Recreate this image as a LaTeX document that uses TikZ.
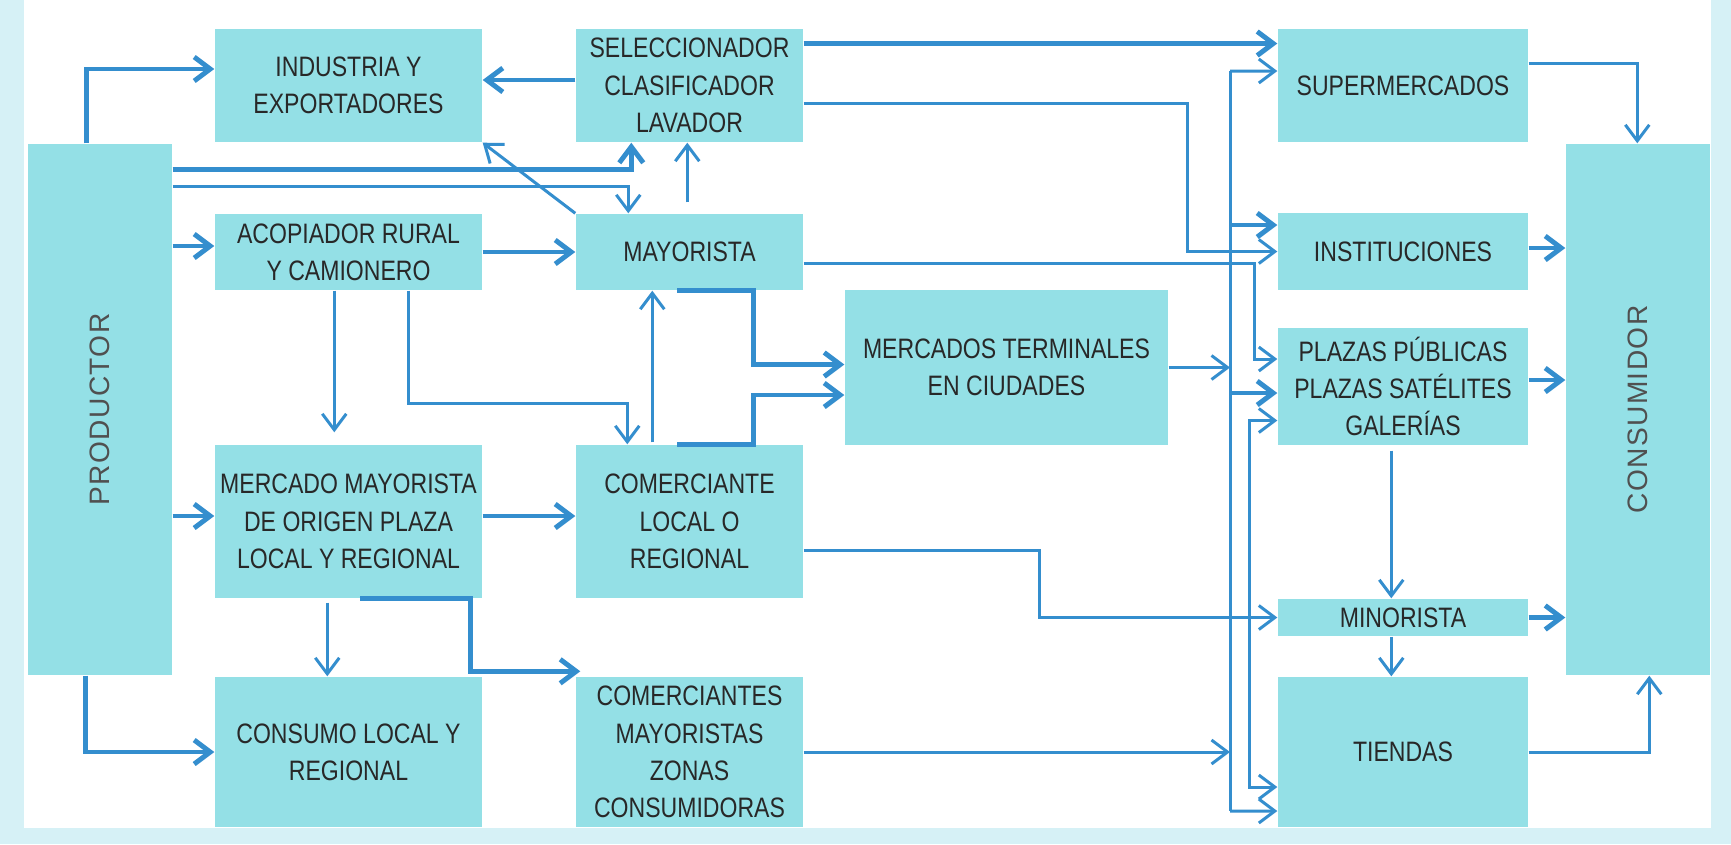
\documentclass[tikz,border=0pt]{standalone}
\usepackage{fontspec}
\setmainfont{Liberation Sans}
\newfontfamily\narrowfont{Liberation Sans}[FakeStretch=0.82]
\newfontfamily\spacedfont{Liberation Sans}[LetterSpace=5]
\usetikzlibrary{arrows.meta}
\definecolor{boxcyan}{RGB}{148,224,230}
\definecolor{flowblue}{RGB}{52,142,206}
\definecolor{edgecyan}{RGB}{214,241,246}
\definecolor{boxtext}{RGB}{40,40,40}
\definecolor{sidegray}{RGB}{80,80,80}
\tikzset{>={Straight Barb[length=1.6mm, width=2.4mm]}}

\begin{document}
\begin{tikzpicture}[x=0.1mm, y=-0.1mm,
    box/.style={fill=boxcyan, inner sep=0pt, align=center, text=boxtext,
      font=\narrowfont\fontsize{8}{10.6}\selectfont},
    side/.style={rotate=90, text=sidegray, font=\spacedfont\fontsize{8}{10}\selectfont},
    flow/.style={draw=flowblue, line width=0.85pt},
    heavy/.style={flow, line width=1.4pt}]
    \useasboundingbox (0,0) rectangle (1731,844);
    \fill[edgecyan] (0,0) rectangle (1731,844);
    \fill[white] (24,0) rectangle (1711,828);

    % boxes
    \node[box, minimum width=14.4mm, minimum height=53.1mm] (prod) at (100,409.5) {};
    \node[side] (prodlabel) at (prod.center) {PRODUCTOR};
    \node[box, minimum width=26.7mm, minimum height=11.3mm] (ind) at (348.5,85.5) {INDUSTRIA Y\\EXPORTADORES};
    \node[box, minimum width=22.7mm, minimum height=11.3mm] (sel) at (689.5,85.5) {SELECCIONADOR\\CLASIFICADOR\\LAVADOR};
    \node[box, minimum width=26.7mm, minimum height=7.6mm] (aco) at (348.5,252) {ACOPIADOR RURAL\\Y CAMIONERO};
    \node[box, minimum width=22.7mm, minimum height=7.6mm] (may) at (689.5,252) {MAYORISTA};
    \node[box, minimum width=32.3mm, minimum height=15.5mm] (mt) at (1006.5,367.5) {MERCADOS TERMINALES\\EN CIUDADES};
    \node[box, minimum width=26.7mm, minimum height=15.3mm] (mm) at (348.5,521.5) {MERCADO MAYORISTA\\DE ORIGEN PLAZA\\LOCAL Y REGIONAL};
    \node[box, minimum width=22.7mm, minimum height=15.3mm] (com) at (689.5,521.5) {COMERCIANTE\\LOCAL O\\REGIONAL};
    \node[box, minimum width=26.7mm, minimum height=15mm] (con) at (348.5,752) {CONSUMO LOCAL Y\\REGIONAL};
    \node[box, minimum width=22.7mm, minimum height=15mm] (cms) at (689.5,752) {COMERCIANTES\\MAYORISTAS\\ZONAS\\CONSUMIDORAS};
    \node[box, minimum width=25mm, minimum height=11.3mm] (sup) at (1403,85.5) {SUPERMERCADOS};
    \node[box, minimum width=25mm, minimum height=7.7mm] (ins) at (1403,251.5) {INSTITUCIONES};
    \node[box, minimum width=25mm, minimum height=11.7mm] (pla) at (1403,386.5) {PLAZAS PÚBLICAS\\PLAZAS SATÉLITES\\GALERÍAS};
    \node[box, minimum width=25mm, minimum height=3.7mm] (min) at (1403,617.5) {MINORISTA};
    \node[box, minimum width=25mm, minimum height=15mm] (tie) at (1403,752) {TIENDAS};
    \node[box, minimum width=14.4mm, minimum height=53.1mm] (cons) at (1638,409.5) {};
    \node[side] (conslabel) at (cons.center) {CONSUMIDOR};

    % productor
    \draw[heavy, ->] (prod.north west) ++(59,0) |- ([yshift=1.65mm]ind.west);
    \draw[heavy, ->] (prod.north east) ++(0,26) -| ([xshift=5.6mm]sel.south west);
    \draw[flow, ->] (prod.north east) ++(0,43) -| ([xshift=5.3mm]may.north west);
    \draw[heavy, ->] ([yshift=.6mm]aco.west -| prod.east) -- ([yshift=.6mm]aco.west);
    \draw[heavy, ->] ([yshift=.55mm]mm.west -| prod.east) -- ([yshift=.55mm]mm.west);
    \draw[heavy, ->] (prod.south west) ++(58,0) |- (con.west);

    % middle
    \draw[heavy, ->] ([yshift=.55mm]sel.west) -- ([yshift=.55mm]ind.east);
    \draw[flow, ->] (may.north west) -- (ind.south east);
    \draw[flow, ->] ([xshift=11.2mm, yshift=1.1mm]may.north west) -- ([xshift=11.2mm]sel.south west);
    \draw[heavy, ->] (aco.east) -- (may.west);
    \draw[flow, ->] ([xshift=12mm]aco.south west) -- ([xshift=12mm, yshift=1.2mm]mm.north west);
    \draw[flow, ->] ([xshift=19.4mm]aco.south west) -- ++(0,113) -| ([xshift=5.2mm]com.north west);
    \draw[flow, ->] ([xshift=7.7mm, yshift=.2mm]com.north west) -- ([xshift=7.7mm]may.south west);
    \draw[heavy, ->] ([xshift=10.2mm]may.south west) -- ++(76,0) |- ([yshift=.3mm]mt.west);
    \draw[heavy, ->] ([xshift=10.2mm]com.north west) -- ++(76,0) |- ([yshift=-2.75mm]mt.west);
    \draw[heavy, ->] ([yshift=.55mm]mm.east) -- ([yshift=.55mm]com.west);
    \draw[flow, ->] ([xshift=11.3mm, yshift=-.4mm]mm.south west) -- ([xshift=11.3mm]con.north west);
    \draw[heavy, ->] ([xshift=14.6mm]mm.south west) -- ++(110,0) |- ([xshift=.5mm, yshift=.5mm]cms.north west);

    % towards the outlets
    \draw[heavy, ->] ([yshift=4.2mm]sel.east) -- ([yshift=4.2mm]sup.west);
    \draw[flow, ->] ([yshift=-1.75mm]sel.east) -- ++(384,0) |- (ins.west);
    \draw[flow, ->] ([yshift=-1.1mm]may.east) -- ++(451,0) |- ([yshift=2.75mm]pla.west);
    \draw[flow, ->] ([yshift=-2.85mm]com.east) -- ++(236,0) |- (min.west);

    % bus line
    \coordinate (bustop) at (1230,71);
    \coordinate (busbot) at (1230,811);
    \draw[flow] (bustop) -- (busbot);
    \draw[flow, ->] (bustop) -- ([yshift=1.45mm]sup.west);
    \draw[heavy, ->] ([yshift=2.65mm]ins.west -| bustop) -- ([yshift=2.65mm]ins.west);
    \draw[heavy, ->] ([yshift=-.65mm]pla.west -| bustop) -- ([yshift=-.65mm]pla.west);
    \draw[flow, ->] (busbot) -- ([yshift=-5.9mm]tie.west);
    \draw[flow, ->] (mt.east) -- (mt.east -| bustop);
    \draw[flow, ->] (cms.east) -- (cms.east -| bustop);
    \draw[flow, <->] ([yshift=-3.4mm]pla.west) -- ++(-28,0) |- ([yshift=-3.5mm]tie.west);

    % outlets
    \draw[flow, ->] ([xshift=11.4mm, yshift=-.5mm]pla.south west) -- ([xshift=11.4mm]min.north west);
    \draw[flow, ->] ([xshift=11.4mm]min.south west) -- ([xshift=11.4mm]tie.north west);
    \draw[flow, ->] ([yshift=2.25mm]sup.east) -| ([xshift=7.2mm]cons.north west);
    \draw[heavy, ->] ([yshift=.35mm]ins.east) -- ([yshift=.35mm]ins.east -| cons.west);
    \draw[heavy, ->] ([yshift=.65mm]pla.east) -- ([yshift=.65mm]pla.east -| cons.west);
    \draw[heavy, ->] (min.east) -- (min.east -| cons.west);
    \draw[flow, ->] (tie.east) -| ([xshift=8.4mm]cons.south west);
\end{tikzpicture}
\end{document}
